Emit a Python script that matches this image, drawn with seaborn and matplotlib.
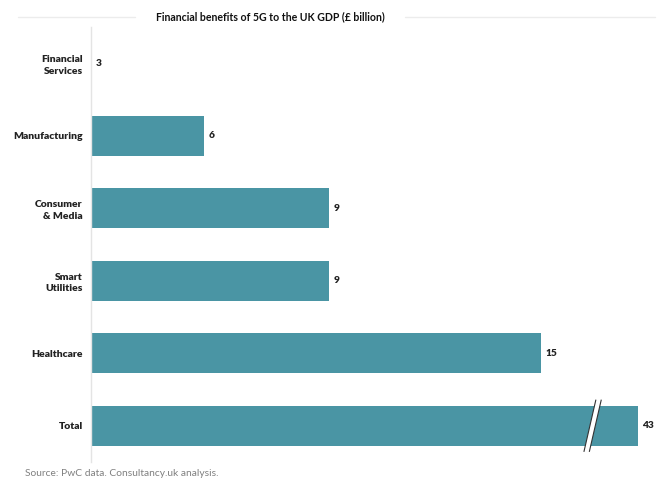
import matplotlib
matplotlib.use("Agg")
import matplotlib.pyplot as plt
from matplotlib.lines import Line2D
from matplotlib.patches import Polygon
import seaborn as sns
import pandas as pd

# ---- data ----
categories = ["Financial\nServices", "Manufacturing", "Consumer\n& Media",
              "Smart\nUtilities", "Healthcare", "Total"]
values = [3, 6, 9, 9, 15, 43]                      # labelled values (£ billion)
drawn_lengths = [0, 3.77, 7.93, 7.93, 15, 18.23]   # bar lengths as drawn in the original (Total axis is broken)
title = "Financial benefits of 5G to the UK GDP (£ billion)"
source = "Source: PwC data. Consultancy.uk analysis."

df = pd.DataFrame({"category": categories, "length": drawn_lengths, "value": values})

sns.set_theme(style="white")
plt.rcParams["font.family"] = ["Lato", "DejaVu Sans"]

W, H = 660, 478
fig = plt.figure(figsize=(W / 100, H / 100), dpi=100)
ax = fig.add_axes([91 / W, 1 - 462 / H, (655 - 91) / W, (462 - 27) / H])

bar_color = "#4A95A4"
sns.barplot(data=df, y="category", x="length", orient="h", color=bar_color,
            width=0.55, saturation=1, ax=ax, edgecolor="none")

ax.set_xlim(0, (655 - 91) / 30)
ax.set_ylim(5.5, -0.5)
ax.set_xlabel("")
ax.set_ylabel("")
ax.set_xticks([])
for s in ["top", "right", "bottom"]:
    ax.spines[s].set_visible(False)
ax.spines["left"].set_color("#e4e4e4")
ax.spines["left"].set_linewidth(1.0)
ax.tick_params(axis="y", length=0, pad=6)
for lbl in ax.get_yticklabels():
    lbl.set_fontsize(7.5)
    lbl.set_fontweight("heavy")
    lbl.set_color("#222222")
    lbl.set_multialignment("right")
    lbl.set_linespacing(1.35)

# value labels
for i, (ln, v) in enumerate(zip(drawn_lengths, values)):
    ax.text(ln + 0.15, i, str(v), va="center", ha="left", fontsize=7.3,
            fontweight="heavy", color="#222222")

# break mark on Total bar
ti = len(categories) - 1
bx = drawn_lengths[ti] - 1.6
dx = 0.2
h = 0.36
poly = Polygon([(bx - dx, ti + h), (bx - dx + 0.18, ti + h),
                (bx + dx + 0.18, ti - h), (bx + dx, ti - h)],
               closed=True, facecolor="white", edgecolor="none", zorder=5)
ax.add_patch(poly)
for off in (0.0, 0.18):
    ax.plot([bx - dx + off, bx + dx + off], [ti + h, ti - h], color="#333333",
            lw=0.8, zorder=6, solid_capstyle="butt")

# title with side rules
fig.text(270 / W, 1 - 17 / H, title, ha="center", va="center", fontsize=7.6,
         fontweight="bold", color="#111111")
fig.add_artist(Line2D([18 / W, 135 / W], [1 - 17 / H] * 2, color="#ececec", lw=1))
fig.add_artist(Line2D([405 / W, 655 / W], [1 - 17 / H] * 2, color="#ececec", lw=1))

fig.text(25 / W, 1 - 473 / H, source, ha="left", va="center", fontsize=7.4,
         color="#808080")

fig.savefig("out.png", dpi=100, facecolor="white")
